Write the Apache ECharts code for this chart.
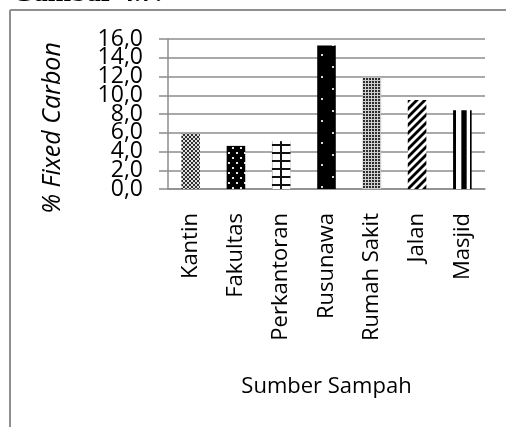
<!DOCTYPE html>
<html>
<head>
<meta charset="utf-8">
<script src="https://cdn.jsdelivr.net/npm/echarts@6/dist/echarts.min.js"></script>
<style>
  html, body { margin: 0; padding: 0; background: #ffffff; }
  #chart { width: 506px; height: 427px; }
</style>
</head>
<body>
<div id="chart"></div>
<script>
// Waste sources and their fixed-carbon content (%)
const categories = ['Kantin', 'Fakultas', 'Perkantoran', 'Rusunawa', 'Rumah Sakit', 'Jalan', 'Masjid'];
const fixedCarbon = [5.9, 4.6, 5.1, 15.3, 11.9, 9.5, 8.4];

// Value axis range, step and tick labels (comma decimal)
const yMin = 0;
const yMax = 16;
const yStep = 2;
const yTicks = [0, 2, 4, 6, 8, 10, 12, 14, 16];
const yTickLabels = ['0,0', '2,0', '4,0', '6,0', '8,0', '10,0', '12,0', '14,0', '16,0'];

const xTitle = 'Sumber Sampah';
const yTitle = '% Fixed Carbon';
const caption = 'Gambar 4.7.';

const FONT = '"Open Sans", "Noto Sans", sans-serif';

// ---- monochrome fill patterns, one per bar ----
function tile(w, h, paint) {
  const c = document.createElement('canvas');
  c.width = w; c.height = h;
  const g = c.getContext('2d');
  paint(g, w, h);
  return c;
}

const fills = {
  // fine dark checker
  checkerA: tile(4, 4, (g) => {
    g.fillStyle = '#e0e0e0'; g.fillRect(0, 0, 4, 4);
    g.fillStyle = '#303030'; g.fillRect(0, 0, 2, 2); g.fillRect(2, 2, 2, 2);
  }),
  // black with white dots
  dots: tile(8, 10, (g) => {
    g.fillStyle = '#000'; g.fillRect(0, 0, 8, 10);
    g.fillStyle = '#e6e6e6'; g.fillRect(1, 2, 2, 2); g.fillRect(5, 7, 2, 2);
  }),
  // white with a dark cross grid
  grid: tile(19, 8, (g) => {
    g.fillStyle = '#fff'; g.fillRect(0, 0, 19, 8);
    g.fillStyle = '#c8c8c8'; g.fillRect(0, 0, 1, 8); g.fillRect(18, 0, 1, 8);
    g.fillStyle = '#111'; g.fillRect(0, 0, 19, 2); g.fillRect(8, 0, 2, 8);
  }),
  // black with sparse white dots
  sparseDots: tile(22, 22, (g) => {
    g.fillStyle = '#000'; g.fillRect(0, 0, 22, 22);
    g.fillStyle = '#d8d8d8'; g.fillRect(4, 10, 2, 2); g.fillRect(15, 0, 2, 2);
  }),
  // fine medium checker
  checkerB: tile(3, 3, (g) => {
    g.fillStyle = '#cfcfcf'; g.fillRect(0, 0, 3, 3);
    g.fillStyle = '#2e2e2e'; g.fillRect(0, 0, 2, 2);
  }),
  // soft upward diagonal stripes
  diagonal: tile(8, 8, (g) => {
    const img = g.createImageData(8, 8);
    for (let y = 0; y < 8; y++) {
      for (let x = 0; x < 8; x++) {
        const t = 0.5 + 0.5 * Math.cos(2 * Math.PI * (x + y) / 8);
        const v = Math.max(0, Math.min(255, Math.round(255 * (1.4 * t - 0.2))));
        const i = (y * 8 + x) * 4;
        img.data[i] = img.data[i + 1] = img.data[i + 2] = v; img.data[i + 3] = 255;
      }
    }
    g.putImageData(img, 0, 0);
  }),
  // vertical stripes
  vertical: tile(19, 1, (g) => {
    g.fillStyle = '#fff'; g.fillRect(0, 0, 19, 1);
    g.fillStyle = '#000'; g.fillRect(0, 0, 3, 1); g.fillRect(17, 0, 2, 1);
    g.fillStyle = '#555'; g.fillRect(8, 0, 6, 1);
    g.fillStyle = '#000'; g.fillRect(9, 0, 4, 1);
  })
};
const fillOrder = ['checkerA', 'dots', 'grid', 'sparseDots', 'checkerB', 'diagonal', 'vertical'];
const BAR_RATIO = 0.41;
const Y_LABEL_GAP = 25;

const chart = echarts.init(document.getElementById('chart'), null, { renderer: 'canvas' });

function barData(offsets) {
  return fixedCarbon.map((v, i) => ({
    value: v,
    itemStyle: {
      color: { image: fills[fillOrder[i]], repeat: 'repeat', x: offsets ? offsets[i] : 0, y: 0 }
    }
  }));
}

const baseGraphics = [
  { type: 'line', shape: { x1: 10, y1: 10, x2: 506, y2: 10 }, style: { stroke: '#8f8f8f', lineWidth: 2 }, silent: true },
  { type: 'line', shape: { x1: 10, y1: 10, x2: 10, y2: 427 }, style: { stroke: '#8f8f8f', lineWidth: 2 }, silent: true },
  {
    type: 'text', x: 12, y: 8, silent: true,
    style: { text: caption, font: 'bold 28px "Liberation Serif", serif', fill: '#000', align: 'left', verticalAlign: 'bottom' }
  },
  {
    type: 'text', x: 53, y: 128, rotation: Math.PI / 2, silent: true,
    style: { text: yTitle, font: 'italic 25px ' + FONT, fill: '#000', align: 'center', verticalAlign: 'middle' }
  }
];

const option = {
  animation: false,
  backgroundColor: '#ffffff',
  grid: { left: 168, right: 21, top: 39, bottom: 238, containLabel: false },
  xAxis: {
    type: 'category',
    data: categories,
    name: xTitle,
    nameLocation: 'middle',
    nameGap: 187,
    nameTextStyle: { fontFamily: FONT, fontSize: 22, color: '#000' },
    axisLine: { show: true, lineStyle: { color: '#8c8c8c', width: 1.5 } },
    axisTick: { show: false },
    axisLabel: {
      rotate: 90, margin: 24, interval: 0, hideOverlap: false,
      fontFamily: FONT, fontSize: 22, color: '#000'
    },
    splitLine: { show: false }
  },
  yAxis: {
    type: 'value',
    min: yMin, max: yMax, interval: yStep,
    axisLine: { show: true, lineStyle: { color: '#8c8c8c', width: 1.5 } },
    axisTick: { show: true, inside: false, length: 9, lineStyle: { color: '#8c8c8c', width: 1.5 } },
    // tick labels sit closer together than their glyph height, so they are placed below
    axisLabel: { show: false },
    splitLine: { show: true, lineStyle: { color: '#8c8c8c', width: 1.5 } }
  },
  series: [{
    type: 'bar',
    data: barData(null),
    barWidth: (BAR_RATIO * 100) + '%',
    emphasis: { disabled: true }
  }],
  graphic: baseGraphics
};

chart.setOption(option);

// Bar geometry from the category axis scale
const c0 = chart.convertToPixel({ xAxisIndex: 0 }, categories[0]);
const c1 = chart.convertToPixel({ xAxisIndex: 0 }, categories[1]);
const band = c1 - c0;
const axisX = c0 - band / 2;

// Anchor each bar's pattern to the bar's own left edge.
const offsets = categories.map((cat) => {
  const cx = chart.convertToPixel({ xAxisIndex: 0 }, cat);
  return Math.round(cx - band * BAR_RATIO / 2);
});

// Value-axis tick labels, positioned through the value axis scale
const tickLabelGraphics = yTicks.map((v, i) => ({
  type: 'text',
  x: axisX - Y_LABEL_GAP,
  y: chart.convertToPixel({ yAxisIndex: 0 }, v),
  silent: true,
  style: { text: yTickLabels[i], font: '23px ' + FONT, fill: '#000', align: 'right', verticalAlign: 'middle' }
}));

chart.setOption({
  series: [{ data: barData(offsets) }],
  graphic: baseGraphics.concat(tickLabelGraphics)
}, { replaceMerge: ['graphic'] });
</script>
</body>
</html>
